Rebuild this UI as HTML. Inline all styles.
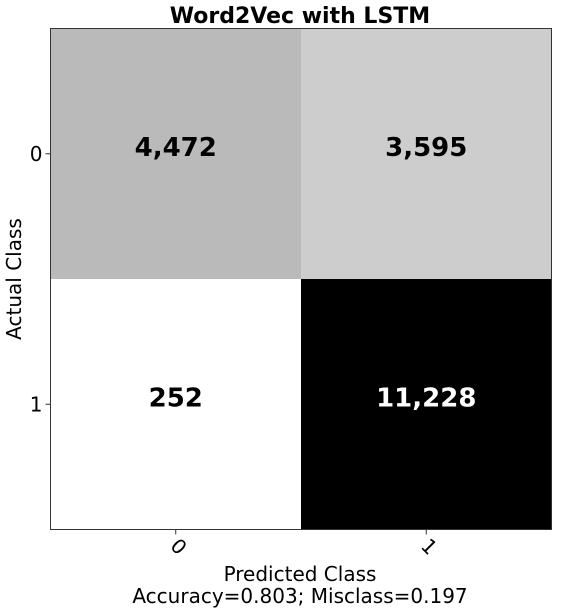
<!DOCTYPE html>
<html><head><meta charset="utf-8"><style>
html,body{margin:0;padding:0;background:#fff;}
svg{display:block;font-family:"DejaVu Sans","Liberation Sans",sans-serif;}
</style></head><body>
<svg id="chart" width="562" height="613" viewBox="0 0 562 613">
<text x="300" y="23" text-anchor="middle" font-size="22" font-weight="bold">Word2Vec with LSTM</text>
<g id="cells"></g>
<rect x="50.5" y="28.5" width="501" height="501" fill="none" stroke="#333" stroke-width="1"/>
<g id="ticks"></g>
<text x="0" y="0" transform="translate(21,279) rotate(-90)" text-anchor="middle" font-size="20">Actual Class</text>
<text x="300" y="581" text-anchor="middle" font-size="20">Predicted Class</text>
<text x="300" y="603" text-anchor="middle" font-size="20">Accuracy=0.803; Misclass=0.197</text>
</svg>
<script>
const classes = ["0", "1"];
const matrixRow0 = [4472, 3595];
const matrixRow1 = [252, 11228];
const matrix = [matrixRow0, matrixRow1];

const NS = "http://www.w3.org/2000/svg";
const x0 = 50.5, y0 = 28.5, W = 501, H = 501;
const n = classes.length;
const cw = W / n, ch = H / n;
const xPos = j => x0 + j * cw;
const yPos = i => y0 + i * ch;
const all = matrix.flat();
const vmin = Math.min(...all), vmax = Math.max(...all);
const stops = [255,240,217,189,150,115,82,37,0];
function grey(v){
  let t = (v - vmin) / (vmax - vmin || 1);
  t = Math.max(0, Math.min(1, t));
  const p = t * 8, k = Math.min(7, Math.floor(p)), f = p - k;
  const g = Math.round(stops[k] + (stops[k+1] - stops[k]) * f);
  return `rgb(${g},${g},${g})`;
}
const cells = document.getElementById("cells");
const thresh = vmax / 2;
matrix.forEach((row, i) => row.forEach((v, j) => {
  const r = document.createElementNS(NS, "rect");
  r.setAttribute("x", xPos(j)); r.setAttribute("y", yPos(i));
  r.setAttribute("width", cw); r.setAttribute("height", ch);
  r.setAttribute("fill", grey(v));
  
  
  cells.appendChild(r);
  const t = document.createElementNS(NS, "text");
  t.setAttribute("x", xPos(j) + cw / 2); t.setAttribute("y", yPos(i) + ch / 2 + 2);
  t.setAttribute("text-anchor", "middle");
  t.setAttribute("font-size", "26"); t.setAttribute("font-weight", "bold");
  t.setAttribute("fill", v > thresh ? "#fff" : "#000");
  t.textContent = v.toLocaleString("en-US");
  
  
  cells.appendChild(t);
}));
const ticks = document.getElementById("ticks");
classes.forEach((c, k) => {
  const cy = yPos(k) + ch / 2;
  const l = document.createElementNS(NS, "line");
  l.setAttribute("x1", x0 - 5); l.setAttribute("x2", x0); l.setAttribute("y1", cy); l.setAttribute("y2", cy);
  l.setAttribute("stroke", "#333");
  
  
  ticks.appendChild(l);
  const t = document.createElementNS(NS, "text");
  t.setAttribute("x", x0 - 8); t.setAttribute("y", cy + 7);
  t.setAttribute("text-anchor", "end"); t.setAttribute("font-size", "20");
  t.textContent = c;
  
  
  ticks.appendChild(t);
  const cx = xPos(k) + cw / 2;
  const l2 = document.createElementNS(NS, "line");
  l2.setAttribute("x1", cx); l2.setAttribute("x2", cx); l2.setAttribute("y1", y0 + H); l2.setAttribute("y2", y0 + H + 5);
  l2.setAttribute("stroke", "#333");
  
  
  ticks.appendChild(l2);
  const t2 = document.createElementNS(NS, "text");
  t2.setAttribute("transform", `translate(${cx - 2},${y0 + H + 22}) rotate(45)`);
  t2.setAttribute("text-anchor", "middle"); t2.setAttribute("font-size", "20");
  t2.setAttribute("x", 0); t2.setAttribute("y", 0);
  t2.textContent = c;
  
  
  ticks.appendChild(t2);
});
</script>
</body></html>
